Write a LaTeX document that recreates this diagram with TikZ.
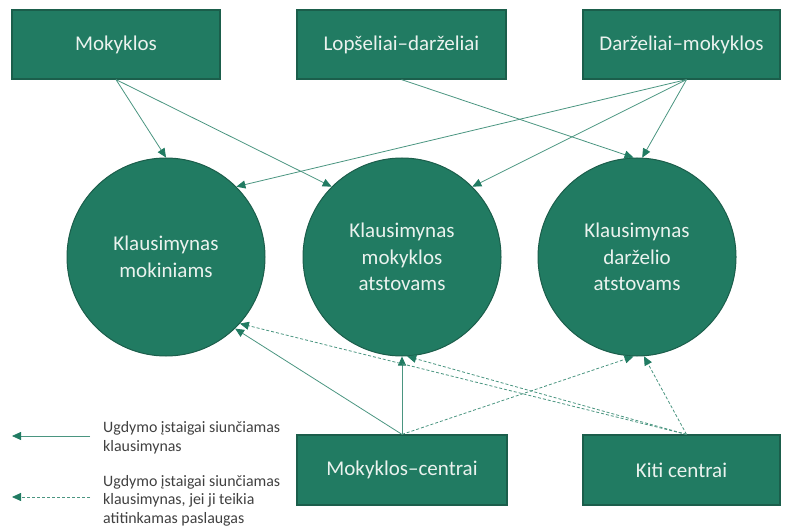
\documentclass[tikz,border=0pt]{standalone}
\usepackage{fontspec}
\setmainfont{Carlito}
\usetikzlibrary{arrows.meta}
\definecolor{boxgreen}{HTML}{217B62}
\definecolor{boxedge}{HTML}{1B5E4B}
\definecolor{linegreen}{HTML}{4A9580}
\definecolor{textlight}{HTML}{EAF2EE}
\definecolor{legendtext}{HTML}{404040}
\begin{document}
\begin{tikzpicture}[x=1pt,y=-1pt,
  box/.style={draw=boxedge, line width=1.2pt, fill=boxgreen, text=textlight,
    font=\fontsize{21}{26.5}\selectfont, minimum height=69pt, inner sep=0pt},
  ball/.style={circle, draw=boxedge, line width=1pt, fill=boxgreen, text=textlight,
    font=\fontsize{21}{26.5}\selectfont, minimum size=198pt, inner sep=0pt, align=center},
  link/.style={draw=linegreen, line width=0.8pt, -{Triangle[length=9pt,width=8pt,color=boxgreen]}},
  maybe/.style={link, dash pattern=on 3pt off 2pt},
  legend/.style={anchor=north west, inner sep=0pt, align=left, text=legendtext,
    font=\fontsize{15.9}{18.4}\selectfont}]
\useasboundingbox (0,0) rectangle (786,526);

% top boxes
\node[box, minimum width=208pt] (mok) at (116,44.5) {Mokyklos};
\node[box, minimum width=209pt] (lop) at (401.5,44.5) {Lopšeliai–darželiai};
\node[box, minimum width=197pt] (dm) at (681.5,44.5) {Darželiai–mokyklos};

% circles
\node[ball] (c1) at (166,257) {Klausimynas\\mokiniams};
\node[ball] (c2) at (402,257) {Klausimynas\\mokyklos\\atstovams};
\node[ball] (c3) at (637,257) {Klausimynas\\darželio\\atstovams};

% bottom boxes
\node[box, minimum width=210pt, minimum height=70pt] (mc) at (402,470) {Mokyklos–centrai};
\node[box, minimum width=197pt, minimum height=70pt] (kiti) at (681.5,470) {Kiti centrai};

% top connectors
\draw[link] (mok.south) -- (c1.north);
\draw[link] (mok.south) -- (c2.135);
\draw[link] (lop.south) -- (c3.92);
\draw[link] ([xshift=5pt]dm.south) -- (c1.45);
\draw[link] ([xshift=5pt]dm.south) -- (c2.45);
\draw[link] ([xshift=5pt]dm.south) -- (c3.87);

% bottom connectors
\draw[link] (mc.north) -- (c1.-46);
\draw[link] (mc.north) -- (c2.south);
\draw[maybe] (mc.north) -- (c3.-92);
\draw[maybe] ([xshift=5pt]kiti.north) -- (c1.-42);
\draw[maybe] ([xshift=5pt]kiti.north) -- (c2.-87);
\draw[maybe] ([xshift=5pt]kiti.north) -- (c3.-86);

% legend
\coordinate (l1s) at (90,436);
\coordinate (l1e) at (12,436);
\coordinate (l2s) at (90,497);
\coordinate (l2e) at (12,497);
\draw[link] (l1s) -- (l1e);
\draw[maybe] (l2s) -- (l2e);
\node[legend] (t1) at (103,421.5) {Ugdymo įstaigai siunčiamas\\klausimynas};
\node[legend] (t2) at (103,475) {Ugdymo įstaigai siunčiamas\\klausimynas, jei ji teikia\\atitinkamas paslaugas};
\end{tikzpicture}
\end{document}
